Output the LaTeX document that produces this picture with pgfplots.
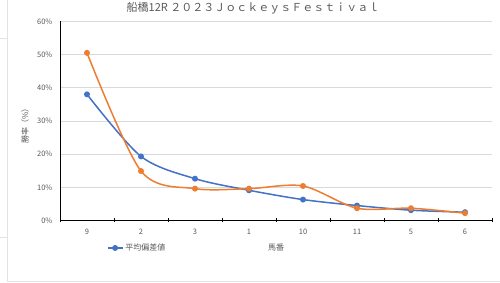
\documentclass[border=0pt]{standalone}
\usepackage{fontspec}
\setmainfont{Noto Sans CJK JP}
\usepackage{pgfplots}
\pgfplotsset{compat=1.18}
\definecolor{eblue}{HTML}{4472C4}
\definecolor{eorange}{HTML}{ED7D31}
\definecolor{txtgray}{HTML}{595959}
\definecolor{gridgray}{HTML}{D9D9D9}
\definecolor{framegray}{HTML}{E3E3E3}
\begin{document}
\begin{tikzpicture}[x=1pt,y=1pt]
\useasboundingbox (0,0) rectangle (500,283);
\draw[framegray, line width=0.8pt] (7,283) -- (7,1.5) -- (500,1.5);
\draw[framegray, line width=0.8pt] (0,245) -- (7,245);
\draw[framegray, line width=0.8pt] (0,46) -- (7,46);
\node[text=txtgray, font=\fontsize{11}{13}\selectfont] at (253,275) {船橋12R ２０２３ＪｏｃｋｅｙｓＦｅｓｔｉｖａｌ};
\begin{axis}[
  scale only axis, width=432pt, height=199.2pt,
  at={(60pt,62.5pt)}, anchor=south west,
  xmin=-0.5, xmax=7.5, ymin=0, ymax=0.6,
  axis x line*=bottom, axis y line*=left,
  axis line style={black, line width=0.8pt},
  xtick={0,...,7},
  xticklabels={9,2,3,1,10,11,5,6},
  minor xtick={-0.5,0.5,1.5,2.5,3.5,4.5,5.5,6.5,7.5},
  major x tick style={draw=none},
  minor x tick style={black, line width=0.8pt},
  minor tick length=4pt,
  tick align=center,
  ytick={0,0.1,0.2,0.3,0.4,0.5,0.6},
  yticklabels={0\%,10\%,20\%,30\%,40\%,50\%,60\%},
  ytick style={draw=none},
  ymajorgrids,
  grid style={gridgray, line width=0.8pt},
  /pgf/number format/assume math mode=true,
  tick label style={text=txtgray, font=\fontsize{7.5}{9}\selectfont},
  xticklabel style={yshift=-3pt},
  yticklabel style={xshift=-2pt},
  xlabel={馬番},
  xlabel style={at={(axis description cs:0.5,-0.138)}, anchor=center, text=txtgray, font=\fontsize{8}{10}\selectfont},
  ylabel={勝率（\%）},
  ylabel style={at={(axis description cs:-0.081,0.484)}, anchor=center, rotate=0, text=txtgray, font=\fontsize{8}{10}\selectfont},
  legend style={at={(axis description cs:0.108,-0.138)}, anchor=west, draw=none, fill=none,
    font=\fontsize{8}{10}\selectfont, text=txtgray, inner sep=0pt},
  legend image code/.code={
    \draw[eblue, line width=1.5pt] (0pt,0pt) -- (15pt,0pt);
    \fill[eblue] (7.5pt,0pt) circle (2.2pt);
  },
  clip=false,
]
\addplot[eblue, line width=1.5pt, smooth, mark=*, mark size=2.2pt, mark options={fill=eblue, draw=eblue}]
  coordinates {(0,0.380) (1,0.193) (2,0.126) (3,0.091) (4,0.063) (5,0.045) (6,0.031) (7,0.025)};
\addlegendentry{平均偏差値}
\addplot[eorange, line width=1.5pt, smooth, mark=*, mark size=2.2pt, mark options={fill=eorange, draw=eorange}, forget plot]
  coordinates {(0,0.505) (1,0.149) (2,0.096) (3,0.096) (4,0.104) (5,0.037) (6,0.037) (7,0.022)};
\end{axis}
\end{tikzpicture}
\end{document}
